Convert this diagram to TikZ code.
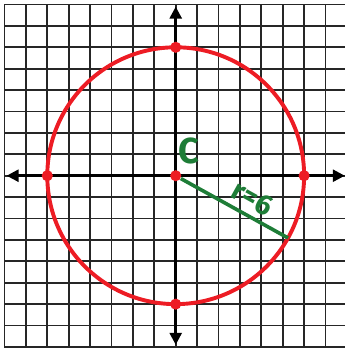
\documentclass[tikz,border=0pt]{standalone}
\usepackage{fontspec}
\setsansfont{Fira Sans}
\usetikzlibrary{arrows.meta, positioning}
\definecolor{red1}{RGB}{237,28,36}
\definecolor{green1}{RGB}{30,125,55}

\begin{document}
\begin{tikzpicture}[x=0.5cm, y=0.5cm,
    gridline/.style={draw=black!85, line width=1.1pt},
    axis/.style={draw=black, line width=1.8pt,
    {Triangle[length=2.8mm,width=2.8mm]}-{Triangle[length=2.8mm,width=2.8mm]}},
    reddot/.style={circle, fill=red1, inner sep=0pt, minimum size=2.6mm},
    bigcircle/.style={draw=red1, line width=2.6pt},
    radiusline/.style={draw=green1, line width=2.4pt},
    handlabel/.style={text=green1, font=\sffamily\bfseries}
]
        \useasboundingbox (-8.21,-8.05) rectangle (7.91,8.21);
        \clip (-8.21,-8.05) rectangle (7.91,8.21);
        \fill[white] (-8.21,-8.05) rectangle (7.91,8.21);

        \draw[gridline, step=1] (-8,-8) grid (8,8);
        \draw[axis] (-7.9,0) -- (7.9,0);
        \draw[axis] (0,-7.9) -- (0,7.9);

        \draw[bigcircle] (0,0) circle (6);

        \coordinate (rim) at (-29:6);
        \node[reddot, name=C] at (0,0) {};
        \node[reddot, name=top] at (0,6) {};
        \node[reddot, name=bottom] at (0,-6) {};
        \node[reddot, name=left] at (-6,0) {};
        \node[reddot, name=right] at (6,0) {};

        \draw[radiusline] (C) -- (rim);

        \node[handlabel, font=\sffamily\bfseries\fontsize{24}{24}\selectfont, name=Clabel] at (0.6,1.15) {C};
        \node[handlabel, font=\sffamily\bfseries\fontsize{19}{19}\selectfont, rotate=-29, inner sep=0pt, name=rlabel] at (3.6,-1.05) {r=6};
    \end{tikzpicture}
\end{document}
